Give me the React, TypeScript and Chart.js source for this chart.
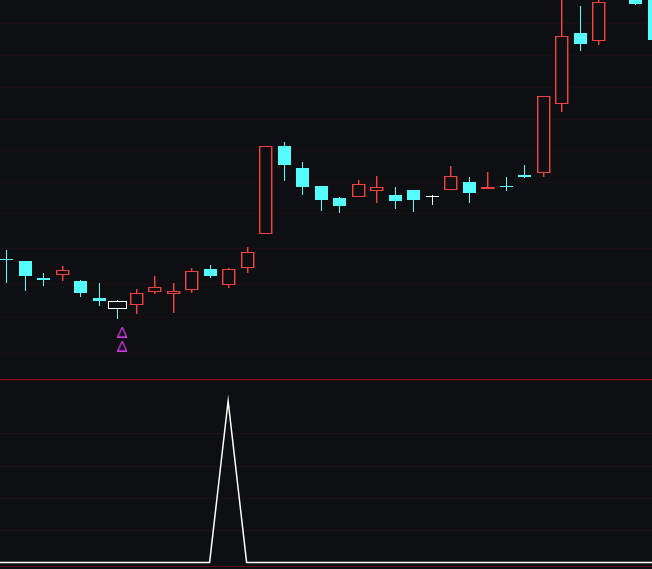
import { useEffect, useRef } from "react";
import { Chart, registerables } from "chart.js";

Chart.register(...registerables);

// Trading-day index (day 0 is the previous session, just off the left edge)
const days = [0, 1, 2, 3, 4, 5, 6, 7, 8, 9, 10, 11, 12, 13, 14, 15, 16, 17, 18, 19, 20, 21, 22, 23, 24, 25, 26, 27, 28, 29, 30, 31, 32, 33, 34, 35, 36];

const opens = [13.6, 13.53, 13.48, 13.05, 13.15, 12.98, 12.55, 12.48, 12.4, 12.73, 12.68, 12.78, 13.28, 12.9, 13.33, 14.18, 16.35, 15.8, 15.35, 15.05, 15.1, 15.25, 15.13, 15.25, 15.1, 15.28, 15.45, 15.3, 15.35, 15.63, 15.7, 17.43, 19.18, 19.0, 20.4, 20.5, 20.5];
const highs = [13.7, 13.75, 13.48, 13.18, 13.35, 13.0, 12.93, 12.5, 12.78, 13.1, 12.93, 13.3, 13.38, 13.3, 13.83, 16.35, 16.45, 15.95, 15.35, 15.08, 15.5, 15.6, 15.33, 15.25, 15.13, 15.85, 15.58, 15.7, 15.58, 15.88, 17.6, 20.2, 19.85, 20.3, 21.3, 20.8, 20.6];
const lows = [13.4, 12.93, 12.73, 12.85, 12.98, 12.58, 12.35, 12.03, 12.15, 12.65, 12.18, 12.68, 13.05, 12.8, 13.18, 14.18, 15.48, 15.13, 14.73, 14.68, 15.1, 14.93, 14.78, 14.7, 14.88, 15.28, 14.93, 15.28, 15.23, 15.55, 15.58, 17.2, 18.73, 18.88, 20.15, 19.88, 19.0];
const closes = [13.55, 13.5, 13.1, 13.0, 13.25, 12.68, 12.48, 12.3, 12.68, 12.83, 12.73, 13.23, 13.1, 13.28, 13.7, 16.35, 15.88, 15.33, 15.0, 14.85, 15.4, 15.33, 14.98, 15.0, 15.1, 15.6, 15.18, 15.33, 15.33, 15.58, 17.6, 19.1, 18.9, 19.95, 21.0, 19.9, 19.0];

// Highlighted signal day (drawn as white box) and its markers
const signalDays = [7];
const markerX = [7.28, 7.28];
const markerPrice = [11.7, 11.35];

// Lower indicator panel
const indicator = [0, 0, 0, 0, 0, 0, 0, 0, 0, 0, 0, 0, 0, 1, 0, 0, 0, 0, 0, 0, 0, 0, 0, 0, 0, 0, 0, 0, 0, 0, 0, 0, 0, 0, 0, 0, 0];

// Grid levels
const priceGrid = [19.43, 18.63, 17.83, 17.03, 16.25, 15.45, 14.68, 13.8, 12.93, 12.08, 11.18];
const indicatorGrid = [0.2, 0.4, 0.6, 0.8];

const BG = "#0e0f12";
const UP = "#f04040";
const UP_SOFT = "rgba(240,64,64,0.45)";
const DOWN = "#54fcfc";
const FLAT = "#ffffff";
const W = 652;
const H = 569;
const PANEL_SPLIT = 379;

const bgPlugin = {
  id: "bg",
  beforeDraw(chart: any) {
    const ctx = chart.ctx;
    ctx.save();
    ctx.fillStyle = BG;
    ctx.fillRect(0, 0, chart.width, chart.height);
    const ys = chart.scales.y;
    const y2 = chart.scales.y2;
    ctx.fillStyle = "#1d0e14";
    priceGrid.forEach((p) => {
      const y = Math.round(ys.getPixelForValue(p));
      ctx.fillRect(0, y, chart.width, 1);
    });
    ctx.fillStyle = "#221019";
    indicatorGrid.forEach((v) => {
      const y = Math.round(y2.getPixelForValue(v));
      ctx.fillRect(0, y, chart.width, 1);
    });
    ctx.fillStyle = "#7a1020";
    ctx.fillRect(0, PANEL_SPLIT, chart.width, 1);
    ctx.fillStyle = "#35080f";
    ctx.fillRect(0, PANEL_SPLIT + 1, chart.width, 1);
    ctx.fillStyle = "#5a0a18";
    ctx.fillRect(0, 566, chart.width, 1);
    ctx.restore();
  },
};

function vline(ctx: any, x: number, y: number, h: number, col: string, soft: string | null) {
  if (h <= 0) return;
  ctx.fillStyle = col;
  ctx.fillRect(x, y, 1, h);
  if (soft) {
    ctx.fillStyle = soft;
    ctx.fillRect(x + 1, y, 1, h);
  }
}

const candlePlugin = {
  id: "candles",
  beforeDatasetsDraw(chart: any) {
    const ctx = chart.ctx;
    const xs = chart.scales.x;
    const ys = chart.scales.y;
    ctx.save();
    ctx.beginPath();
    ctx.rect(0, 0, chart.width, PANEL_SPLIT);
    ctx.clip();
    days.forEach((d, i) => {
      const o = opens[i];
      const c = closes[i];
      const cx = Math.round(xs.getPixelForValue(d));
      const yo = ys.getPixelForValue(o);
      const yc = ys.getPixelForValue(c);
      const top = Math.round(Math.min(yo, yc));
      const bot = Math.round(Math.max(yo, yc));
      const yh = Math.round(ys.getPixelForValue(highs[i]));
      const yl = Math.round(ys.getPixelForValue(lows[i]));
      const dir = c > o ? UP : c < o ? DOWN : FLAT;
      const soft = dir === UP ? UP_SOFT : null;
      const isSignal = signalDays.includes(d);
      const half = isSignal ? 9 : 6;
      const left = cx - half;
      const bw = half * 2 + 1;
      const h = Math.max(1, bot - top);
      // wicks
      vline(ctx, cx, yh, top - yh, dir, soft);
      vline(ctx, cx, bot, yl - bot, dir, soft);
      // body
      if (isSignal || dir === UP) {
        const col = isSignal ? FLAT : UP;
        const sc = isSignal ? null : UP_SOFT;
        ctx.fillStyle = BG;
        ctx.fillRect(left, top, bw, h);
        ctx.fillStyle = col;
        ctx.fillRect(left, top, bw, 1);
        ctx.fillRect(left, top + h, bw, 1);
        vline(ctx, left, top, h + 1, col, sc);
        vline(ctx, left + bw - 1, top, h + 1, col, sc);
      } else {
        ctx.fillStyle = dir;
        ctx.fillRect(left, top, bw, h);
      }
    });
    ctx.restore();
  },
};

function makeTriangle(): HTMLCanvasElement {
  const c = document.createElement("canvas");
  c.width = 10;
  c.height = 11;
  const g = c.getContext("2d")!;
  g.strokeStyle = "#d038e0";
  g.lineWidth = 1.3;
  g.beginPath();
  g.moveTo(5, 0.7);
  g.lineTo(9.3, 10.3);
  g.lineTo(0.7, 10.3);
  g.closePath();
  g.stroke();
  return c;
}

export default function App() {
  const ref = useRef<HTMLCanvasElement>(null);

  useEffect(() => {
    if (!ref.current) return;
    const tri = makeTriangle();
    const chart = new Chart(ref.current, {
      type: "line",
      data: {
        datasets: [
          {
            type: "line",
            data: days.map((d, i) => ({ x: d, y: indicator[i] })),
            yAxisID: "y2",
            borderColor: "#ffffff",
            borderWidth: 1.5,
            pointRadius: 0,
            tension: 0,
            fill: false,
          } as any,
          {
            type: "scatter",
            data: markerX.map((x, i) => ({ x, y: markerPrice[i] })),
            yAxisID: "y",
            pointStyle: tri,
            pointRadius: 5,
            showLine: false,
          } as any,
        ],
      },
      options: {
        animation: false,
        responsive: false,
        maintainAspectRatio: false,
        events: [],
        layout: { padding: 0, autoPadding: false },
        plugins: { legend: { display: false }, tooltip: { enabled: false } },
        scales: {
          x: { type: "linear", min: 0.676, max: 35.9, display: false },
          y: { type: "linear", min: 5.775, max: 20, display: false },
          y2: { type: "linear", min: -0.04025, max: 3.483, display: false },
        },
      } as any,
      plugins: [bgPlugin, candlePlugin],
    });
    return () => chart.destroy();
  }, []);

  return (
    <div style={{ position: "fixed", left: 0, top: 0, width: W, height: H, background: BG }}>
      <canvas ref={ref} width={W} height={H} style={{ display: "block", width: W, height: H }} />
    </div>
  );
}
